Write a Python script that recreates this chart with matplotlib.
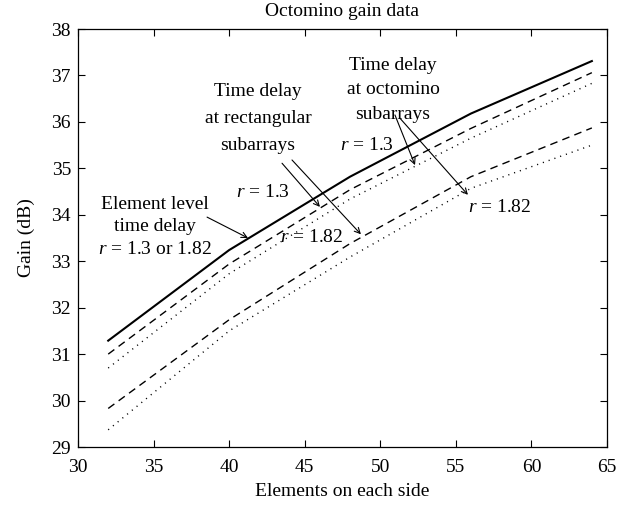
import matplotlib
matplotlib.use("Agg")
import matplotlib.pyplot as plt

plt.rcParams["font.family"] = ["Liberation Serif", "DejaVu Serif"]
plt.rcParams["mathtext.fontset"] = "custom"
plt.rcParams["mathtext.rm"] = "Liberation Serif"
plt.rcParams["mathtext.it"] = "Liberation Serif:italic"

# Array size (elements on each side)
elements = [32, 40, 48, 56, 64]

# Gain (dB) for each beam-steering scheme
gain_element_level = [31.29, 33.24, 34.82, 36.18, 37.31]
gain_rect_r13 = [31.00, 32.94, 34.54, 35.86, 37.06]
gain_octo_r13 = [30.70, 32.73, 34.34, 35.65, 36.83]
gain_rect_r182 = [29.83, 31.74, 33.38, 34.82, 35.87]
gain_octo_r182 = [29.37, 31.50, 33.09, 34.57, 35.50]

xticks = [30, 35, 40, 45, 50, 55, 60, 65]
yticks = [29, 30, 31, 32, 33, 34, 35, 36, 37, 38]

FS = 14

fig = plt.figure(figsize=(6.32, 5.09), dpi=100)
ax = fig.add_axes([0.1234, 0.1218, 0.8370, 0.8212])

DASH = (0, (5.5, 3.8))
DOT = (0, (0.8, 3.6))
ax.plot(elements, gain_element_level, color="black", lw=1.5, ls="-")
ax.plot(elements, gain_rect_r13, color="black", lw=1.0, ls=DASH)
ax.plot(elements, gain_octo_r13, color="black", lw=1.0, ls=DOT)
ax.plot(elements, gain_rect_r182, color="black", lw=1.0, ls=DASH)
ax.plot(elements, gain_octo_r182, color="black", lw=1.0, ls=DOT)

ax.set_xlim(30, 65)
ax.set_ylim(29, 38)
ax.set_xticks(xticks)
ax.set_yticks(yticks)
ax.tick_params(direction="in", top=True, right=True, labelsize=FS,
               length=5, width=0.8)
ax.tick_params(axis="x", pad=8.5)
ax.tick_params(axis="y", pad=5)
for s in ax.spines.values():
    s.set_linewidth(0.9)

ax.set_title("Octomino gain data", fontsize=FS, pad=9.5)
ax.set_xlabel("Elements on each side", fontsize=FS, labelpad=5.5)
ax.set_ylabel("Gain (dB)", fontsize=FS, labelpad=12)

arrow = dict(arrowstyle="->", color="black", lw=0.8,
             shrinkA=0, shrinkB=0, mutation_scale=10)

# Element level time delay
ax.text(35.09, 33.74, "Element level\ntime delay\n$r$ = 1.3 or 1.82",
        ha="center", va="center", fontsize=FS, linespacing=1.44)
ax.annotate("", xy=(41.25, 33.50), xytext=(38.54, 33.95), arrowprops=arrow)

# Time delay at rectangular subarrays
ax.text(41.91, 36.08, "Time delay\nat rectangular\nsubarrays",
        ha="center", va="center", fontsize=FS, linespacing=1.78)
ax.annotate("", xy=(46.01, 34.17), xytext=(43.50, 35.11), arrowprops=arrow)
ax.annotate("", xy=(48.72, 33.58), xytext=(44.16, 35.18), arrowprops=arrow)
ax.text(42.24, 34.49, "$r$ = 1.3", ha="center", va="center", fontsize=FS)
ax.text(45.48, 33.52, "$r$ = 1.82", ha="center", va="center", fontsize=FS)

# Time delay at octomino subarrays
ax.text(50.84, 36.69, "Time delay\nat octomino\nsubarrays",
        ha="center", va="center", fontsize=FS, linespacing=1.57)
ax.annotate("", xy=(52.30, 35.07), xytext=(50.97, 36.15), arrowprops=arrow)
ax.annotate("", xy=(55.80, 34.43), xytext=(51.30, 36.08), arrowprops=arrow)
ax.text(49.12, 35.50, "$r$ = 1.3", ha="center", va="center", fontsize=FS)
ax.text(57.92, 34.15, "$r$ = 1.82", ha="center", va="center", fontsize=FS)

fig.savefig("out.png", dpi=100)
